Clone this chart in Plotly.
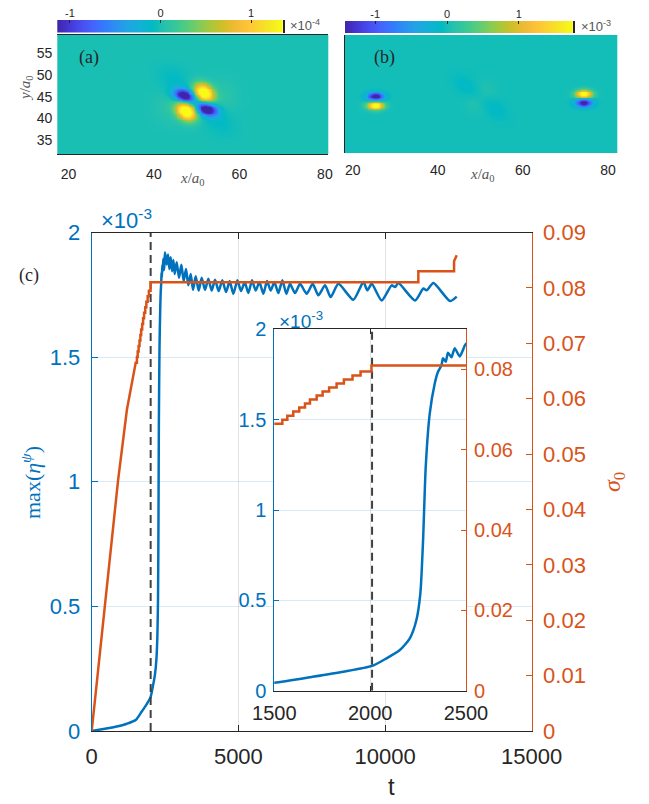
import numpy as np
import plotly.graph_objects as go

# page is rendered with the browser's default 8px body margin
OFF = 8
W, H = 649 - OFF, 804 - OFF
SANS = "Liberation Sans"
SERIF = "Liberation Serif"
BLUE = "#0072BD"
ORANGE = "#D95319"
DARK = "#262626"

# ---------------- panel (c) data ----------------
# time and max(eta^psi) in units of 1e-3
t_eta = [0, 300, 600, 900, 1200, 1500, 1700, 1860, 2010, 2085,
         2155, 2207, 2241, 2262, 2276, 2290, 2311, 2337, 2354, 2372,
         2380, 2394, 2406, 2424, 2441, 2467, 2484, 2500,
         2556, 2602, 2647, 2693, 2738, 2784, 2829, 2897, 2977, 3056,
         3136, 3215, 3295, 3375, 3454, 3545, 3647, 3750, 3863, 3977,
         4090, 4204, 4329, 4454, 4579, 4704, 4829, 4966, 5091, 5216,
         5341, 5466, 5591, 5716, 5852, 5977, 6102, 6227, 6363, 6500,
         6636, 6761, 6930,
         7102, 7329, 7534, 7727, 7954, 8148, 8409, 8920, 9261, 9398,
         9545, 9886, 10227, 10341, 10455, 11023, 11307, 11420, 11648, 12216,
         12444]
eta_max = [0, 0.006, 0.012, 0.019, 0.029, 0.044, 0.077, 0.105, 0.137, 0.179,
           0.225, 0.29, 0.39, 0.54, 0.83, 1.24, 1.535, 1.70, 1.765, 1.80,
           1.84, 1.82, 1.87, 1.845, 1.895, 1.85, 1.885, 1.92,
           1.872, 1.912, 1.854, 1.901, 1.845, 1.890, 1.834, 1.881, 1.818, 1.871,
           1.805, 1.854, 1.788, 1.834, 1.770, 1.824, 1.767, 1.818, 1.770, 1.814,
           1.767, 1.810, 1.765, 1.808, 1.761, 1.805, 1.754, 1.808, 1.765, 1.801,
           1.757, 1.808, 1.767, 1.801, 1.754, 1.805, 1.767, 1.801, 1.757, 1.808,
           1.754, 1.794, 1.757,
           1.794, 1.754, 1.794, 1.748, 1.788, 1.741, 1.794, 1.730, 1.801, 1.768,
           1.794, 1.727, 1.788, 1.781, 1.797, 1.727, 1.775, 1.768, 1.797, 1.725,
           1.743]

# sigma_0: smooth ramp, then stepwise increments
sig_ramp_t = [0, 450, 900, 1200, 1500]
sig_ramp_v = [0, 0.0226, 0.0453, 0.0580, 0.0665]
sig_step_t = [1542, 1568, 1599, 1630, 1660, 1686, 1721, 1752, 1786, 1825,
              1863, 1908, 1950, 2007, 11135, 12353]
sig_step_v = [0.0675, 0.0685, 0.0695, 0.0705, 0.0715, 0.0725, 0.0735, 0.0745, 0.0755, 0.0765,
              0.0775, 0.0785, 0.0795, 0.0810, 0.0830, 0.0848]
sig_end_t = [12444]
sig_end_v = [0.0859]

t_switch = 2010

main_xticks = [0, 5000, 10000, 15000]
main_yticks = [0, 0.5, 1, 1.5, 2]
main_y2ticks = [0, 0.01, 0.02, 0.03, 0.04, 0.05, 0.06, 0.07, 0.08, 0.09]
inset_xticks = [1500, 2000, 2500]
inset_y2ticks = [0, 0.02, 0.04, 0.06, 0.08]

# ---------------- panels (a), (b): lobe parameters ----------------
# panel (a), units 1e-4
a_x = [51.7, 47.2, 47.6, 52.4, 45.0, 55.0, 44.0, 56.0]
a_y = [45.85, 45.15, 41.6, 42.1, 48.5, 39.5, 42.5, 45.0]
a_amp = [1.8, -1.55, 1.8, -1.55, -0.10, -0.10, 0.08, 0.08]
a_sx = [1.7, 1.7, 1.7, 1.7, 3.0, 3.0, 2.5, 2.5]
a_sy = [1.3, 1.0, 1.3, 1.0, 2.0, 2.0, 2.5, 2.5]
a_ang = [-35, -15, -35, -15, -40, -40, 0, 0]
a_crange = [-1.14, 1.35]
a_xrange = [17.4, 80.8]
# panel (b), units 1e-3
b_x = [25.4, 25.4, 74.3, 74.3, 46.5, 53.5, 48.5, 51.5]
b_y = [44.9, 42.75, 45.5, 43.4, 47.5, 42.0, 43.0, 46.5]
b_amp = [-1.7, 2.0, 2.0, -1.7, -0.12, -0.12, 0.07, 0.07]
b_sx = [1.3, 1.3, 1.3, 1.3, 2.2, 2.2, 1.8, 1.8]
b_sy = [0.65, 0.65, 0.65, 0.65, 1.4, 1.4, 1.4, 1.4]
b_ang = [0, 0, 0, 0, -40, -40, -40, -40]
b_crange = [-1.42, 1.75]
b_xrange = [18.2, 82.2]
yrange_ab = [31.7, 59.3]
ab_xticks = [20, 40, 60, 80]
a_yticks = [35, 40, 45, 50, 55]
cb_ticks = [-1, 0, 1]

parula = [
    (0.2422, 0.1504, 0.6603), (0.2706, 0.2147, 0.8364), (0.2813, 0.3006, 0.9414),
    (0.2699, 0.3892, 0.9906), (0.1963, 0.4847, 0.9892), (0.1687, 0.5703, 0.9359),
    (0.1248, 0.6459, 0.8883), (0.0689, 0.6948, 0.8394), (0.0067, 0.7312, 0.7660),
    (0.1408, 0.7584, 0.6842), (0.2161, 0.7843, 0.5923), (0.3406, 0.8008, 0.4789),
    (0.5044, 0.7993, 0.3480), (0.6720, 0.7793, 0.2227), (0.8203, 0.7498, 0.1535),
    (0.9393, 0.7288, 0.2100), (0.9970, 0.7659, 0.2199), (0.9786, 0.8386, 0.1766),
    (0.9597, 0.9135, 0.1423), (0.9769, 0.9839, 0.0805)]
n = len(parula)
cscale = [[i / (n - 1), "rgb(%d,%d,%d)" % tuple(int(round(c * 255)) for c in col)]
          for i, col in enumerate(parula)]


def field(X, Y, xs, ys, amps, sxs, sys_, angs):
    Z = np.zeros_like(X)
    for x0, y0, A, sx, sy, ang in zip(xs, ys, amps, sxs, sys_, angs):
        a = np.deg2rad(ang)
        dx, dy = X - x0, Y - y0
        u = dx * np.cos(a) + dy * np.sin(a)
        v = -dx * np.sin(a) + dy * np.cos(a)
        Z += A * np.exp(-(u ** 2 / (2 * sx ** 2) + v ** 2 / (2 * sy ** 2)))
    return Z


gx = np.arange(16.0, 83.5, 0.2)
gy = np.arange(31.0, 60.2, 0.2)
GX, GY = np.meshgrid(gx, gy)
Za = field(GX, GY, a_x, a_y, a_amp, a_sx, a_sy, a_ang)
Zb = field(GX, GY, b_x, b_y, b_amp, b_sx, b_sy, b_ang)

# sigma series (ramp + steps)
sig_t = list(sig_ramp_t)
sig_v = list(sig_ramp_v)
for t, v in zip(sig_step_t, sig_step_v):
    sig_t += [t, t]
    sig_v += [sig_v[-1], v]
sig_t += sig_end_t
sig_v += sig_end_v


def px2fx(p):
    return (p - OFF) / W


def px2fy(p):
    return 1 - (p - OFF) / H


# domains (paper fractions)
main_dx = [px2fx(91.7), px2fx(531.7)]
main_dy = [px2fy(731), px2fy(232.5)]
ins_dx = [px2fx(274.3), px2fx(466)]
ins_dy = [px2fy(690.7), px2fy(329.3)]
a_dx = [px2fx(57.3), px2fx(328.3)]
a_dy = [px2fy(154), px2fy(35)]
b_dx = [px2fx(345), px2fx(617.3)]
b_dy = [px2fy(153), px2fy(35)]
cba_dx = [px2fx(57.3), px2fx(282.7)]
cba_dy = [px2fy(32.5), px2fy(20.0)]
cbb_dx = [px2fx(345), px2fx(572.7)]
cbb_dy = [px2fy(33.3), px2fy(21.0)]

fig = go.Figure()

# white backing for the inset, in main-axes coordinates
mxr = [0, 15000]
myr = [0, 2]
tl = mxr[0] + (ins_dx[0] - main_dx[0]) / (main_dx[1] - main_dx[0]) * (mxr[1] - mxr[0])
tr = mxr[0] + (ins_dx[1] - main_dx[0]) / (main_dx[1] - main_dx[0]) * (mxr[1] - mxr[0])
yb = myr[0] + (ins_dy[0] - main_dy[0]) / (main_dy[1] - main_dy[0]) * (myr[1] - myr[0])
ytp = myr[0] + (ins_dy[1] - main_dy[0]) / (main_dy[1] - main_dy[0]) * (myr[1] - myr[0])
fig.add_trace(go.Scatter(x=[tl, tr, tr, tl, tl], y=[yb, yb, ytp, ytp, yb], fill="toself",
                         fillcolor="white", line=dict(width=0), mode="lines",
                         hoverinfo="skip", showlegend=False, xaxis="x", yaxis="y"))

# main traces
fig.add_trace(go.Scatter(x=t_eta, y=eta_max, mode="lines",
                         line=dict(color=BLUE, width=2.5, shape="spline", smoothing=0.6),
                         showlegend=False, xaxis="x", yaxis="y"))
fig.add_trace(go.Scatter(x=[t_switch, t_switch], y=myr, mode="lines",
                         line=dict(color="#404040", width=2, dash="8px,5px"),
                         showlegend=False, xaxis="x", yaxis="y"))
fig.add_trace(go.Scatter(x=sig_t, y=sig_v, mode="lines",
                         line=dict(color=ORANGE, width=2.5),
                         showlegend=False, xaxis="x", yaxis="y2"))

# inset traces
fig.add_trace(go.Scatter(x=t_eta, y=eta_max, mode="lines",
                         line=dict(color=BLUE, width=2.5, shape="spline", smoothing=0.6),
                         showlegend=False, xaxis="x2", yaxis="y3"))
fig.add_trace(go.Scatter(x=[t_switch, t_switch], y=[0, 2], mode="lines",
                         line=dict(color="#404040", width=2, dash="8px,5px"),
                         showlegend=False, xaxis="x2", yaxis="y3"))
fig.add_trace(go.Scatter(x=sig_t, y=sig_v, mode="lines",
                         line=dict(color=ORANGE, width=2.5),
                         showlegend=False, xaxis="x2", yaxis="y4"))

# heatmaps
fig.add_trace(go.Heatmap(x=gx, y=gy, z=Za, colorscale=cscale, zmin=a_crange[0], zmax=a_crange[1],
                         showscale=False, xaxis="x3", yaxis="y5", hoverinfo="skip"))
fig.add_trace(go.Heatmap(x=gx, y=gy, z=Zb, colorscale=cscale, zmin=b_crange[0], zmax=b_crange[1],
                         showscale=False, xaxis="x4", yaxis="y6", hoverinfo="skip"))
cba = np.linspace(a_crange[0], a_crange[1], 256)
cbb = np.linspace(b_crange[0], b_crange[1], 256)
fig.add_trace(go.Heatmap(x=cba, y=[0], z=[cba], colorscale=cscale, zmin=a_crange[0], zmax=a_crange[1],
                         showscale=False, xaxis="x5", yaxis="y7", hoverinfo="skip"))
fig.add_trace(go.Heatmap(x=cbb, y=[0], z=[cbb], colorscale=cscale, zmin=b_crange[0], zmax=b_crange[1],
                         showscale=False, xaxis="x6", yaxis="y8", hoverinfo="skip"))


def fmt(v):
    return "%g" % v


tf_main = dict(family=SANS, size=22, color=DARK)
cb_font = dict(family=SANS, size=11, color=DARK)
fig.update_layout(
    width=W, height=H, margin=dict(l=0, r=0, t=0, b=0, autoexpand=False),
    paper_bgcolor="white", plot_bgcolor="white", showlegend=False,
    xaxis=dict(domain=main_dx, range=mxr, tickvals=main_xticks, ticktext=[fmt(v) for v in main_xticks],
               ticks="inside", ticklen=6, tickcolor=DARK, showline=True, linecolor=DARK, linewidth=1,
               mirror="ticks", showgrid=True, gridcolor="#e3e3e3", zeroline=False,
               tickfont=tf_main, anchor="y", ticklabelstandoff=6, automargin=False),
    yaxis=dict(domain=main_dy, range=myr, tickvals=main_yticks, ticktext=[fmt(v) for v in main_yticks],
               ticks="inside", ticklen=6, tickcolor=BLUE, showline=True, linecolor=BLUE, linewidth=1,
               showgrid=True, gridcolor="rgba(0,114,189,0.15)", zeroline=False,
               tickfont=dict(family=SANS, size=22, color=BLUE), anchor="x", ticklabelstandoff=6,
               automargin=False),
    yaxis2=dict(overlaying="y", side="right", anchor="x", range=[0, 0.09], tickvals=main_y2ticks,
                ticktext=[fmt(v) for v in main_y2ticks], ticks="inside", ticklen=6, tickcolor=ORANGE,
                showline=True, linecolor=ORANGE, linewidth=1, showgrid=False, zeroline=False,
                tickfont=dict(family=SANS, size=22, color=ORANGE), ticklabelstandoff=6, automargin=False),
    xaxis2=dict(domain=ins_dx, range=[1500, 2500], tickvals=inset_xticks, ticktext=[fmt(v) for v in inset_xticks],
                ticks="inside", ticklen=5, tickcolor=DARK, showline=True, linecolor=DARK, linewidth=1,
                mirror="ticks", showgrid=True, gridcolor="#e3e3e3", zeroline=False,
                tickfont=dict(family=SANS, size=20, color=DARK), anchor="y3", ticklabelstandoff=4,
                automargin=False),
    yaxis3=dict(domain=ins_dy, range=[0, 2], tickvals=main_yticks, ticktext=[fmt(v) for v in main_yticks],
                ticks="inside", ticklen=5, tickcolor=BLUE, showline=True, linecolor=BLUE, linewidth=1,
                showgrid=True, gridcolor="rgba(0,114,189,0.15)", zeroline=False,
                tickfont=dict(family=SANS, size=20, color=BLUE), anchor="x2", ticklabelstandoff=3,
                automargin=False),
    yaxis4=dict(overlaying="y3", side="right", anchor="x2", range=[0, 0.09], tickvals=inset_y2ticks,
                ticktext=[fmt(v) for v in inset_y2ticks], ticks="inside", ticklen=5, tickcolor=ORANGE,
                showline=True, linecolor=ORANGE, linewidth=1, showgrid=False, zeroline=False,
                tickfont=dict(family=SANS, size=20, color=ORANGE), ticklabelstandoff=3, automargin=False),
    xaxis3=dict(domain=a_dx, range=a_xrange, tickvals=ab_xticks, ticks="", showline=True, mirror=True,
                linecolor=DARK, linewidth=1, showgrid=False, zeroline=False, anchor="y5",
                tickfont=dict(family=SANS, size=14, color=DARK), ticklabelstandoff=7, automargin=False),
    yaxis5=dict(domain=a_dy, range=yrange_ab, tickvals=a_yticks, ticks="", showline=False,
                showgrid=False, zeroline=False, anchor="x3",
                tickfont=dict(family=SANS, size=14, color=DARK), ticklabelstandoff=4, automargin=False),
    xaxis4=dict(domain=b_dx, range=b_xrange, tickvals=ab_xticks, ticks="", showline=False,
                showgrid=False, zeroline=False, anchor="y6",
                tickfont=dict(family=SANS, size=14, color=DARK), ticklabelstandoff=7, automargin=False),
    yaxis6=dict(domain=b_dy, range=yrange_ab, showticklabels=False, ticks="", showline=True,
                linecolor=DARK, linewidth=1, showgrid=False, zeroline=False, anchor="x4", automargin=False),
    xaxis5=dict(domain=cba_dx, range=a_crange, side="top", tickvals=cb_ticks, ticktext=["-1", "0", "1"],
                ticks="inside", ticklen=3, tickcolor=DARK, showline=False, showgrid=False, zeroline=False,
                anchor="y7", tickfont=cb_font, ticklabelstandoff=0, automargin=False),
    yaxis7=dict(domain=cba_dy, range=[-0.5, 0.5], showticklabels=False, ticks="", side="right",
                showline=True, linecolor=DARK, linewidth=1.5, showgrid=False, zeroline=False, anchor="x5",
                automargin=False),
    xaxis6=dict(domain=cbb_dx, range=b_crange, side="top", tickvals=cb_ticks, ticktext=["-1", "0", "1"],
                ticks="inside", ticklen=3, tickcolor=DARK, showline=False, showgrid=False, zeroline=False,
                anchor="y8", tickfont=cb_font, ticklabelstandoff=0, automargin=False),
    yaxis8=dict(domain=cbb_dy, range=[-0.5, 0.5], showticklabels=False, ticks="", side="right",
                showline=True, linecolor=DARK, linewidth=1.5, showgrid=False, zeroline=False, anchor="x6",
                automargin=False),
)


def ann(text, px, py, size, color, family=SANS, angle=0):
    fig.add_annotation(text=text, x=px2fx(px), y=px2fy(py), xref="paper", yref="paper",
                       showarrow=False, textangle=angle, xanchor="center", yanchor="middle",
                       font=dict(family=family, size=size, color=color))


ann("(a)", 89, 57, 18, DARK, SERIF)
ann("(b)", 384, 57, 18, DARK, SERIF)
ann("(c)", 29, 275, 18, DARK, SERIF)
ann("<i>y</i>/<i>a</i><sub>0</sub>", 26, 88, 15, "#555555", SERIF, -90)
ann("<i>x</i>/<i>a</i><sub>0</sub>", 192, 179, 15, "#555555", SERIF)
ann("<i>x</i>/<i>a</i><sub>0</sub>", 482, 175, 15, "#555555", SERIF)
ann("×10<sup>-4</sup>", 305, 25, 13, "#555555")
ann("×10<sup>-3</sup>", 596, 26, 13, "#555555")
ann("×10<sup>-3</sup>", 126, 219, 22, BLUE)
ann("×10<sup>-3</sup>", 301, 320, 19, BLUE)
ann("t", 391, 786, 24, DARK)
ann("max(<i>η</i><sup><i>ψ</i></sup>)", 31, 483, 22, BLUE, SERIF, -90)
ann("<i>σ</i><sub>0</sub>", 614, 482, 24, ORANGE, SERIF, -90)

fig.write_html("out.html")
